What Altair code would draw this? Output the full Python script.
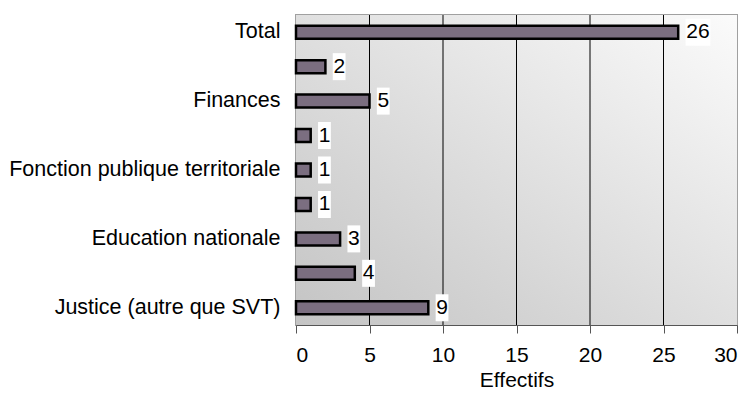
import json
import altair as alt
import pandas as pd

# Rows listed top to bottom (only every other category name is printed in the source)
labels = ["Total", "", "Finances", "", "Fonction publique territoriale", "",
          "Education nationale", "", "Justice (autre que SVT)"]
values = [26, 2, 5, 1, 1, 1, 3, 4, 9]
grid_values = [5, 10, 15, 20, 25]
x_ticks = [0, 5, 10, 15, 20, 25, 30]

W, H = 441, 310
FONT = "Liberation Sans"
FS = 21

df = pd.DataFrame({"row": list(range(len(values))), "value": values})
df["label"] = [str(v) for v in values]
grid_df = pd.DataFrame({"g": grid_values})
bg_df = pd.DataFrame({"k": [0]})

label_expr = json.dumps(labels, ensure_ascii=False) + "[datum.value]"

y_enc = alt.Y("row:O", scale=alt.Scale(paddingInner=0, paddingOuter=0),
              axis=alt.Axis(title=None, labelExpr=label_expr, ticks=False,
                            domain=False, labelPadding=16, labelFontSize=21.5,
                            labelFont=FONT, labelColor="black", labelLimit=0))
x_scale = alt.Scale(domain=[0, 30], nice=False, zero=True)

bg = alt.Chart(bg_df).mark_rect(
    color=alt.Gradient(gradient="linear",
                       stops=[alt.GradientStop(color="#c4c4c4", offset=0),
                              alt.GradientStop(color="#fbfbfb", offset=1)],
                       x1=0, y1=1, x2=1, y2=0)
).encode(x=alt.value(0), x2=alt.value(W), y=alt.value(0), y2=alt.value(H))

grid = alt.Chart(grid_df).mark_rule(color="black", strokeWidth=1).encode(
    x=alt.X("g:Q", scale=x_scale), y=alt.value(0), y2=alt.value(H))

bars = alt.Chart(df).mark_bar(size=13, color="#7b6e80", stroke="black",
                              strokeWidth=2.5).encode(
    x=alt.X("value:Q", scale=x_scale,
            axis=alt.Axis(title="Effectifs", values=x_ticks, grid=False,
                          tickSize=8, tickColor="#555", domainColor="#555",
                          labelFontSize=FS, labelFont=FONT, labelColor="black",
                          labelPadding=11, titleFontSize=FS, titleFont=FONT,
                          titleFontWeight="normal", titleColor="black",
                          titlePadding=4)),
    y=y_enc)

boxes = alt.Chart(df).transform_calculate(
    bx="datum.value + 0.5",
    bx2="datum.value + 0.55 + 0.82 * length(datum.label)"
).mark_bar(size=27, color="white").encode(
    x=alt.X("bx:Q", scale=x_scale), x2="bx2:Q", y=y_enc)

texts = alt.Chart(df).mark_text(align="left", baseline="middle", dx=8,
                                font=FONT, fontSize=FS, color="black").encode(
    x=alt.X("value:Q", scale=x_scale), y=y_enc, text="label:N")

chart = alt.layer(bg, grid, bars, boxes, texts).properties(
    width=W, height=H,
    autosize=alt.AutoSizeParams(type="none"),
    padding={"left": 288, "top": 7, "right": 3, "bottom": 68},
).configure_view(stroke="#a0a0a0", strokeWidth=2)

chart.save("out.html", embed_options={"renderer": "svg", "actions": False})
